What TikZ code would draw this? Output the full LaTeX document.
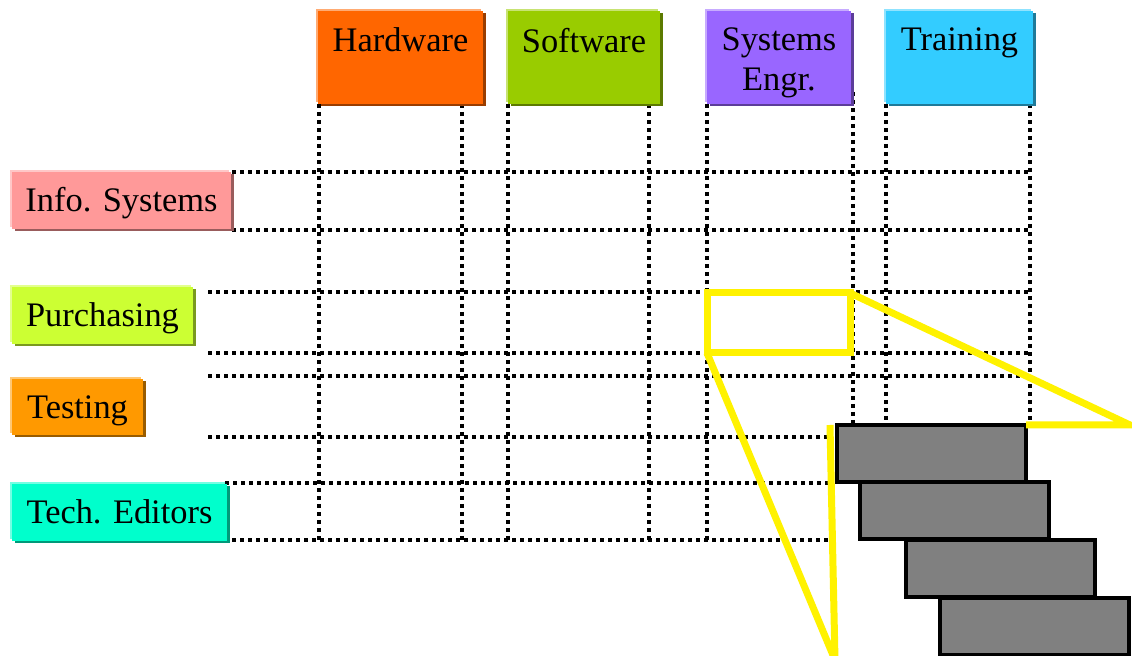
\documentclass[tikz,border=0pt]{standalone}
\usepackage{fontspec}
\setmainfont{Liberation Serif}
\usepackage{tikz}
\usetikzlibrary{shadows}

\definecolor{hwcol}{HTML}{FF6600}
\definecolor{swcol}{HTML}{99CC00}
\definecolor{secol}{HTML}{9966FF}
\definecolor{trcol}{HTML}{33CCFF}
\definecolor{iscol}{HTML}{FF9999}
\definecolor{pucol}{HTML}{CCFF33}
\definecolor{tscol}{HTML}{FF9900}
\definecolor{tecol}{HTML}{00FFCC}

\tikzset{
  tab/.style={fill=#1, inner sep=0pt, outer sep=0pt, anchor=north west,
    general shadow={fill=#1!60!black, shadow xshift=1.5pt, shadow yshift=-1.2pt},
    general shadow={fill=#1!55!white, shadow xshift=-1pt, shadow yshift=1.2pt}},
  hdrtext/.style={anchor=north, yshift=-5pt, align=center},
  rowtext/.style={text height=.7em, text depth=.25em, yshift=-3.5pt},
  gridline/.style={line width=2pt, dash pattern=on 2pt off 2pt},
  callout/.style={draw=yellow, line width=3.5pt},
  bar/.style={draw, fill=gray, line width=1.6pt, inner sep=0pt, outer sep=0pt, anchor=north west,
    minimum width=94.5pt, minimum height=28.5pt}
}

\begin{document}
\begin{tikzpicture}[x=0.5pt, y=-0.5pt, font=\fontsize{17.2}{20}\selectfont]
\useasboundingbox (0,0) rectangle (1132,656);

% dotted matrix
\foreach \x in {319,462,508,649,707}
  \draw[gridline] (\x,104) -- (\x,540);
\draw[gridline] (853,92) -- (853,425);
\foreach \x in {886,1030}
  \draw[gridline] (\x,104) -- (\x,425);
\foreach \y in {172,230}
  \draw[gridline] (232,\y) -- (1030,\y);
\foreach \y in {292,353,376}
  \draw[gridline] (208,\y) -- (1030,\y);
\draw[gridline] (208,437) -- (828,437);
\draw[gridline] (225,483) -- (828,483);
\draw[gridline] (232,540) -- (828,540);

% column heads
\node[tab=hwcol, minimum width=82.5pt, minimum height=46.5pt, label={[hdrtext]north:Hardware}] (hw) at (318,11) {};
\node[tab=swcol, minimum width=76pt, minimum height=46.5pt, label={[hdrtext]north:Software}] (sw) at (508,11) {};
\node[tab=secol, minimum width=72pt, minimum height=46.5pt, label={[hdrtext]north:Systems\\Engr.}] (se) at (707,11) {};
\node[tab=trcol, minimum width=73.5pt, minimum height=46.5pt, label={[hdrtext]north:Training}] (tr) at (886,11) {};

% row heads
\node[tab=iscol, minimum width=109.5pt, minimum height=28.5pt] (info) at (12,172) {};
\node[tab=pucol, minimum width=90.5pt, minimum height=28.5pt] (purch) at (12,287) {};
\node[tab=tscol, minimum width=65.5pt, minimum height=28pt] (test) at (12,379) {};
\node[tab=tecol, minimum width=107.5pt, minimum height=28.5pt] (tech) at (12,484) {};
\node[rowtext] (infotxt) at (info) {Info. Systems};
\node[rowtext] (purchtxt) at (purch) {Purchasing};
\node[rowtext] (testtxt) at (test) {Testing};
\node[rowtext] (techtxt) at (tech) {Tech. Editors};

% detail
\node[callout, inner sep=0pt, outer sep=0pt, anchor=north west, minimum width=71.5pt, minimum height=30pt] (sel) at (707,293) {};
\node[bar] (bar1) at (837,425) {};
\node[bar] (bar2) at (860,482) {};
\node[bar] (bar3) at (906,540) {};
\node[bar] (bar4) at (940,598) {};
\draw[callout] (sel.north east) -- (1130,425) -- (bar1.north east);
\draw[callout] (sel.south west) -- (835,660) -- (830,425);
\end{tikzpicture}
\end{document}
